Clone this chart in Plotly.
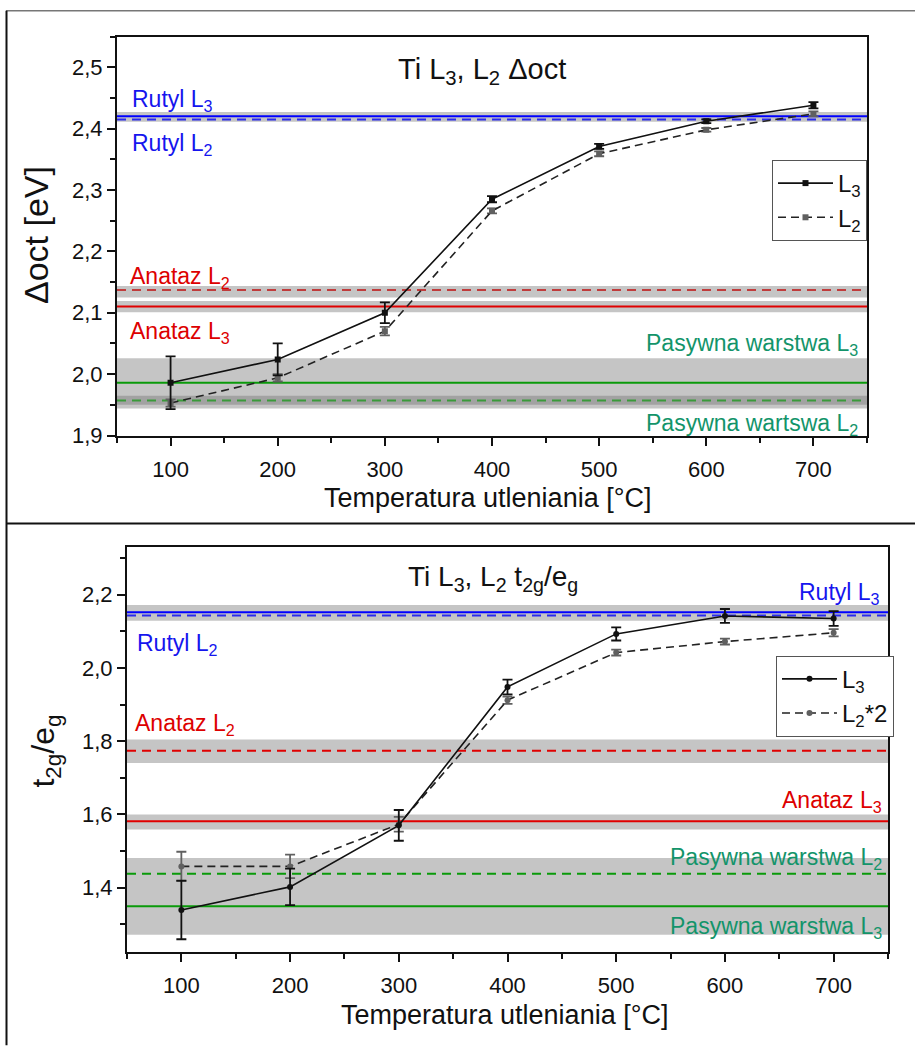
import plotly.graph_objects as go

W, H = 915, 1048

# ---- data ----
temps = [100, 200, 300, 400, 500, 600, 700]

# Δoct (eV)
doct_L3 = [1.986, 2.024, 2.100, 2.285, 2.371, 2.412, 2.438]
doct_L3_err = [0.043, 0.026, 0.017, 0.005, 0.004, 0.003, 0.005]
doct_L2 = [1.953, 1.994, 2.070, 2.266, 2.359, 2.398, 2.424]
doct_L2_err = [0.006, 0.006, 0.007, 0.004, 0.004, 0.003, 0.004]

# t2g/eg
ratio_L3 = [1.339, 1.402, 1.570, 1.948, 2.093, 2.142, 2.135]
ratio_L3_err = [0.080, 0.050, 0.042, 0.020, 0.018, 0.019, 0.020]
ratio_L2x2 = [1.458, 1.458, 1.573, 1.912, 2.042, 2.072, 2.096]
ratio_L2x2_err = [0.040, 0.032, 0.020, 0.010, 0.008, 0.008, 0.010]

# reference levels: (value, colour, dash)
doct_refs = [
    (2.420, "#0000ff", "solid"),    # Rutyl L3
    (2.415, "#2a2aee", "9px,6px"),  # Rutyl L2
    (2.137, "#c03c3c", "9px,6px"),  # Anataz L2
    (2.110, "#e00000", "solid"),    # Anataz L3
    (1.986, "#0a9a0a", "solid"),    # Pasywna warstwa L3
    (1.957, "#3a9a3a", "9px,6px"),  # Pasywna warstwa L2
]
doct_bands = [(2.411, 2.427), (2.125, 2.1435), (2.101, 2.119), (1.950, 2.026), (1.944, 1.965)]

ratio_refs = [
    (2.152, "#0000ff", "solid"),    # Rutyl L3
    (2.143, "#2a2aee", "9px,6px"),  # Rutyl L2
    (1.774, "#e00000", "9px,6px"),  # Anataz L2
    (1.581, "#e00000", "solid"),    # Anataz L3
    (1.438, "#0a9a0a", "9px,6px"),  # Pasywna warstwa L2
    (1.349, "#0a9a0a", "solid"),    # Pasywna warstwa L3
]
ratio_bands = [(2.129, 2.172), (1.7405, 1.8046), (1.559, 1.600), (1.271, 1.481)]

X_RANGE = [50, 750]

FONT = "Arial, Liberation Sans, sans-serif"
BLUE_T = "#1515ee"
RED_T = "#dd0000"
GREEN_T = "#13946a"


def px(x):
    return x / W


def py(y):
    return 1 - y / H


fig = go.Figure()


def add_panel(xa, ya, refs, s3, e3, s2, e2, symbol, name2, legend):
    for val, col, dash in refs:
        fig.add_trace(go.Scatter(
            x=X_RANGE, y=[val, val], mode="lines", xaxis=xa, yaxis=ya,
            line=dict(color=col, width=2, dash=dash), showlegend=False,
            hoverinfo="skip"))
    fig.add_trace(go.Scatter(
        x=temps, y=s2, mode="lines+markers", xaxis=xa, yaxis=ya, name=name2,
        line=dict(color="#222222", width=1.6, dash="8px,5px"),
        marker=dict(symbol=symbol, size=6, color="#606060"),
        error_y=dict(type="data", array=e2, color="#606060", thickness=1.8, width=5),
        legend=legend, legendrank=2))
    fig.add_trace(go.Scatter(
        x=temps, y=s3, mode="lines+markers", xaxis=xa, yaxis=ya, name="L<sub>3</sub>",
        line=dict(color="#111111", width=1.6),
        marker=dict(symbol=symbol, size=6, color="#111111"),
        error_y=dict(type="data", array=e3, color="#111111", thickness=1.8, width=5),
        legend=legend, legendrank=1))


add_panel("x", "y", doct_refs, doct_L3, doct_L3_err, doct_L2, doct_L2_err,
          "square", "L<sub>2</sub>", "legend")
add_panel("x2", "y2", ratio_refs, ratio_L3, ratio_L3_err, ratio_L2x2, ratio_L2x2_err,
          "circle", "L<sub>2</sub>*2", "legend2")

shapes = []
for lo, hi in doct_bands:
    shapes.append(dict(type="rect", xref="x", yref="y", x0=X_RANGE[0], x1=X_RANGE[1],
                       y0=lo, y1=hi, fillcolor="rgba(110,110,110,0.4)",
                       line=dict(width=0), layer="below"))
for lo, hi in ratio_bands:
    shapes.append(dict(type="rect", xref="x2", yref="y2", x0=X_RANGE[0], x1=X_RANGE[1],
                       y0=lo, y1=hi, fillcolor="rgba(110,110,110,0.4)",
                       line=dict(width=0), layer="below"))

# panel frames
shapes.append(dict(type="line", xref="paper", yref="paper", x0=px(6), x1=1.01,
                   y0=py(11), y1=py(11), line=dict(color="#777777", width=1.5)))
shapes.append(dict(type="line", xref="paper", yref="paper", x0=px(6.5), x1=px(6.5),
                   y0=py(11), y1=-0.01, line=dict(color="#111111", width=2)))
shapes.append(dict(type="line", xref="paper", yref="paper", x0=px(6), x1=1.01,
                   y0=py(530), y1=py(530), line=dict(color="#111111", width=2)))

annotations = []


def label(text, x, y, color, anchor="left", size=23):
    annotations.append(dict(text=text, x=px(x), y=py(y), xref="paper", yref="paper",
                            xanchor=anchor, yanchor="middle", showarrow=False,
                            font=dict(family=FONT, size=size, color=color)))


# top panel texts
label("Ti L<sub>3</sub>, L<sub>2</sub> Δoct", 482, 72, "#111111", "center", 29)
label("Rutyl L<sub>3</sub>", 130, 102, BLUE_T)
label("Rutyl L<sub>2</sub>", 130, 146, BLUE_T)
label("Anataz L<sub>2</sub>", 128, 281, RED_T)
label("Anataz L<sub>3</sub>", 128, 337, RED_T)
label("Pasywna warstwa L<sub>3</sub>", 860, 349, GREEN_T, "right")
label("Pasywna wartswa L<sub>2</sub>", 860, 430, GREEN_T, "right")
label("Temperatura utleniania [°C]", 487, 504, "#111111", "center", 27)
annotations.append(dict(text="Δoct [eV]", x=px(36), y=py(238), xref="paper", yref="paper",
                        textangle=-90, showarrow=False, xanchor="center", yanchor="middle",
                        font=dict(family=FONT, size=34, color="#111111")))

# bottom panel texts
label("Ti L<sub>3</sub>, L<sub>2</sub> t<sub>2g</sub>/e<sub>g</sub>", 493, 586, "#111111", "center", 28)
label("Rutyl L<sub>3</sub>", 882, 601, BLUE_T, "right")
label("Rutyl L<sub>2</sub>", 135, 653, BLUE_T)
label("Anataz L<sub>2</sub>", 133, 734, RED_T)
label("Anataz L<sub>3</sub>", 884, 812, RED_T, "right")
label("Pasywna warstwa L<sub>2</sub>", 884, 869, GREEN_T, "right")
label("Pasywna warstwa L<sub>3</sub>", 884, 939, GREEN_T, "right")
label("Temperatura utleniania [°C]", 504, 1028, "#111111", "center", 27)
annotations.append(dict(text="t<sub>2g</sub>/e<sub>g</sub>", x=px(46), y=py(761), xref="paper",
                        yref="paper", textangle=-90, showarrow=False, xanchor="center",
                        yanchor="middle", font=dict(family=FONT, size=32, color="#111111")))

axis_common = dict(showline=True, linecolor="#111111", linewidth=2, mirror=True,
                   ticks="outside", ticklen=8, tickwidth=2, tickcolor="#111111",
                   showgrid=False, zeroline=False,
                   tickfont=dict(family=FONT, size=22, color="#111111"))
minor_x = dict(dtick=50, ticks="outside", ticklen=5, tickwidth=1.5, tickcolor="#111111")

fig.update_layout(
    width=W, height=H, margin=dict(l=0, r=0, t=0, b=0),
    paper_bgcolor="white", plot_bgcolor="white", separators=", ",
    xaxis=dict(domain=[px(117), px(867)], anchor="y", range=X_RANGE, dtick=100,
               tick0=0, minor=minor_x, ticklabelstandoff=5, **axis_common),
    yaxis=dict(domain=[py(441), py(37)], anchor="x", range=[1.9, 2.55], dtick=0.1,
               tick0=1.9, tickformat=".1f",
               minor=dict(dtick=0.05, ticks="outside", ticklen=5, tickwidth=1.5,
                          tickcolor="#111111"), **axis_common),
    xaxis2=dict(domain=[px(127), px(888)], anchor="y2", range=X_RANGE, dtick=100,
                tick0=0, minor=minor_x, ticklabelstandoff=5, **axis_common),
    yaxis2=dict(domain=[py(964), py(554)], anchor="x2", range=[1.224, 2.33], dtick=0.2,
                tick0=1.4, tickformat=".1f",
                minor=dict(dtick=0.1, tick0=1.3, ticks="outside", ticklen=5, tickwidth=1.5,
                           tickcolor="#111111"), **axis_common),
    legend=dict(x=px(772), y=py(162), xanchor="left", yanchor="top",
                bgcolor="white", bordercolor="#555555", borderwidth=1,
                font=dict(family=FONT, size=24, color="#111111"),
                itemwidth=55, tracegroupgap=0),
    legend2=dict(x=px(776), y=py(664), xanchor="left", yanchor="top",
                 bgcolor="white", bordercolor="#555555", borderwidth=1,
                 font=dict(family=FONT, size=24, color="#111111"),
                 itemwidth=55, tracegroupgap=0),
    shapes=shapes, annotations=annotations,
)

fig.write_html("out.html")
